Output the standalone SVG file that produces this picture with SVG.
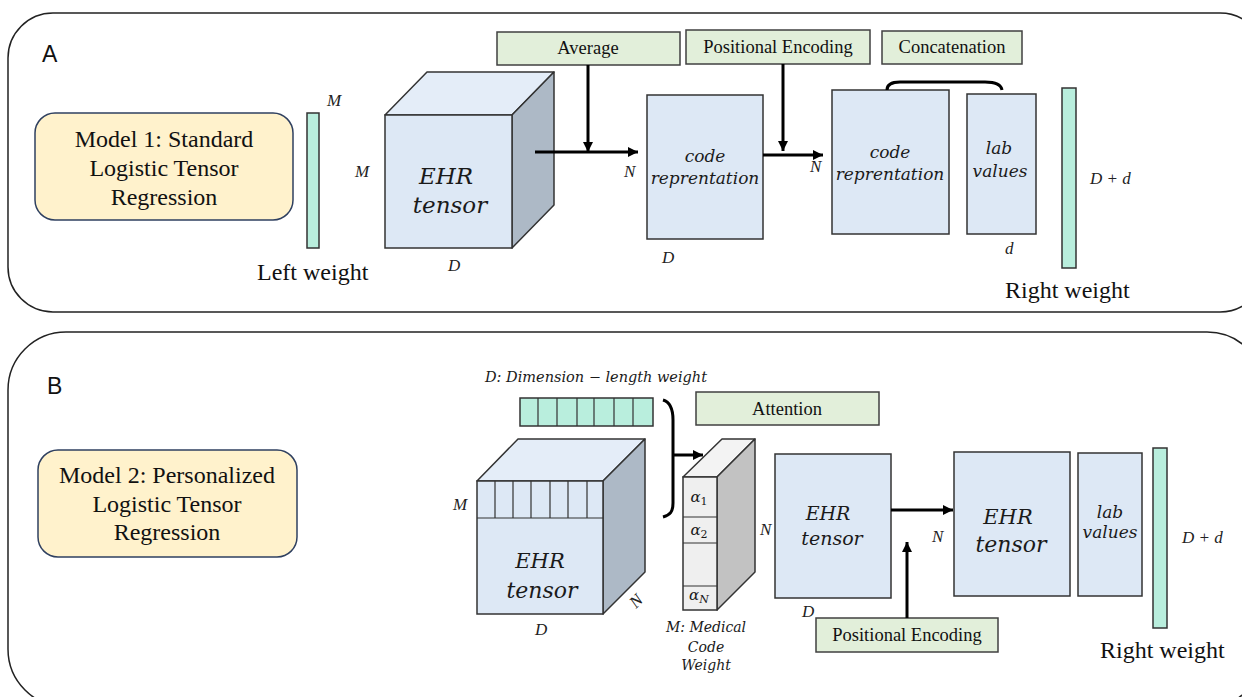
<svg xmlns="http://www.w3.org/2000/svg" width="1242" height="697" viewBox="0 0 1242 697">
<defs>
<marker id="ah" viewBox="0 0 10 10" refX="10" refY="5" markerWidth="11" markerHeight="10" markerUnits="userSpaceOnUse" orient="auto">
<path d="M0,0 L10,5 L0,10 z" fill="#000"/>
</marker>
<style>
.panel{fill:#fff;stroke:#222;stroke-width:1.5}
.model{fill:#fff2cc;stroke:#2f4060;stroke-width:1.5}
.op{fill:#e2efda;stroke:#404040;stroke-width:1.5}
.blue{fill:#dde8f5;stroke:#333;stroke-width:1.5}
.top{fill:#e4edf8;stroke:#333;stroke-width:1.5;stroke-linejoin:round}
.side{fill:#adb9c6;stroke:#333;stroke-width:1.5;stroke-linejoin:round}
.teal{fill:#b9eedd;stroke:#333;stroke-width:1.5}
.thin{stroke:#333;stroke-width:1.2;fill:none}
.gfront{fill:#efefef;stroke:#333;stroke-width:1.5}
.gtop{fill:#f3f3f3;stroke:#333;stroke-width:1.5;stroke-linejoin:round}
.gside{fill:#c2c2c2;stroke:#333;stroke-width:1.5;stroke-linejoin:round}
.arr{stroke:#000;stroke-width:3;fill:none;marker-end:url(#ah)}
.brace{stroke:#000;stroke-width:3;fill:none}
.big{font-family:"Liberation Serif",serif;font-size:24px;fill:#111}
.lbl{font-family:"Liberation Serif",serif;font-size:18.5px;fill:#111;text-anchor:middle}
.var{font-family:"Liberation Serif",serif;font-style:italic;font-size:17px;fill:#222}
.math{font-family:"DejaVu Serif",serif;font-style:italic;fill:#1a1a1a;text-anchor:middle}
.pl{font-family:"Liberation Sans",sans-serif;font-size:23px;fill:#111}
</style>
</defs>

<g id="panelA">
<rect class="panel" x="8" y="13" width="1257" height="299" rx="45"/>
<text class="pl" x="42" y="62">A</text>
</g>
<g id="panelB">
<rect class="panel" x="8" y="332" width="1257" height="375" rx="58"/>
<text class="pl" x="47" y="394">B</text>
</g>

<!-- Panel A nodes -->
<g id="model1">
<rect class="model" x="35" y="113" width="258" height="107" rx="20"/>
<text class="big" text-anchor="middle" x="164" y="147">Model 1: Standard</text>
<text class="big" text-anchor="middle" x="164" y="176">Logistic Tensor</text>
<text class="big" text-anchor="middle" x="164" y="205">Regression</text>
</g>
<g id="leftWeightA">
<rect class="teal" x="307" y="113" width="12" height="135"/>
<text class="var" x="327" y="106" font-size="15">M</text>
<text class="big" x="257" y="280">Left weight</text>
</g>
<g id="cubeA">
<text class="var" x="355" y="177">M</text>
<polygon class="top" points="385,115 427,72 554,72 512,115"/>
<polygon class="side" points="512,115 554,72 554,205 512,248"/>
<rect class="blue" x="385" y="115" width="127" height="133"/>
<text class="math" x="446" y="184" font-size="23">EHR</text>
<text class="math" x="450" y="213" font-size="23">tensor</text>
<text class="var" x="448" y="271">D</text>
</g>
<g id="average">
<rect class="op" x="497" y="32" width="183" height="33"/>
<text class="lbl" x="588" y="54">Average</text>
</g>
<g id="codeRepA1">
<rect class="blue" x="647" y="95" width="116" height="144"/>
<text class="math" x="705" y="162" font-size="17">code</text>
<text class="math" x="705" y="184" font-size="17">reprentation</text>
<text class="var" x="662" y="263">D</text>
<text class="var" x="624" y="177">N</text>
</g>
<g id="posEncA">
<rect class="op" x="686" y="30" width="184" height="34"/>
<text class="lbl" x="778" y="53">Positional Encoding</text>
</g>
<g id="concat">
<rect class="op" x="882" y="31" width="140" height="33"/>
<text class="lbl" x="952" y="53">Concatenation</text>
</g>
<g id="codeRepA2">
<rect class="blue" x="832" y="90" width="117" height="144"/>
<text class="math" x="890" y="158" font-size="17">code</text>
<text class="math" x="890" y="180" font-size="17">reprentation</text>
<text class="var" x="810" y="172">N</text>
</g>
<g id="labA">
<rect class="blue" x="967" y="94" width="69" height="140"/>
<text class="math" x="999" y="154" font-size="17">lab</text>
<text class="math" x="1000" y="177" font-size="17">values</text>
<text class="var" x="1005" y="254">d</text>
</g>
<g id="rightWeightA">
<rect class="teal" x="1062" y="88" width="14" height="180"/>
<text class="var" x="1090" y="184" font-size="18">D + d</text>
<text class="big" x="1005" y="298">Right weight</text>
</g>

<!-- Panel B nodes -->
<g id="model2">
<rect class="model" x="38" y="450" width="259" height="107" rx="20"/>
<text class="big" text-anchor="middle" x="167" y="483">Model 2: Personalized</text>
<text class="big" text-anchor="middle" x="167" y="512">Logistic Tensor</text>
<text class="big" text-anchor="middle" x="167" y="540">Regression</text>
</g>
<g id="dimWeight">
<text class="math" x="596" y="382" font-size="14.5" textLength="222" lengthAdjust="spacingAndGlyphs">D: Dimension − length weight</text>
<rect class="teal" x="520" y="398" width="133" height="28"/>
<path class="thin" d="M538,398V426M557,398V426M577,398V426M594,398V426M614,398V426M633,398V426"/>
</g>
<g id="cubeB">
<polygon class="top" points="477,481 518,439 645,439 603,481"/>
<polygon class="side" points="603,481 645,439 645,572 603,614"/>
<rect class="blue" x="477" y="481" width="126" height="133"/>
<path class="thin" d="M477,518H603M495,481V518M513,481V518M531,481V518M550,481V518M568,481V518M587,481V518"/>
<text class="var" x="453" y="510">M</text>
<text class="math" x="540" y="568" font-size="21">EHR</text>
<text class="math" x="542" y="598" font-size="22">tensor</text>
<text class="var" x="535" y="635">D</text>
<text class="var" x="0" y="0" transform="translate(636,609) rotate(-45)">N</text>
</g>
<g id="attention">
<rect class="op" x="696" y="392" width="183" height="33"/>
<text class="lbl" x="787" y="415">Attention</text>
</g>
<g id="medWeight">
<polygon class="gtop" points="683,477 722,439 755,439 717,477"/>
<polygon class="gside" points="717,477 755,439 755,572 717,610"/>
<rect class="gfront" x="683" y="477" width="34" height="133"/>
<path class="thin" d="M683,517H717M683,543H717M683,586H717"/>
<text class="math" x="699" y="502" font-size="15">α<tspan font-size="11" dy="3" font-style="normal">1</tspan></text>
<text class="math" x="699" y="535" font-size="15">α<tspan font-size="11" dy="3" font-style="normal">2</tspan></text>
<text class="math" x="699" y="600" font-size="15">α<tspan font-size="11" dy="3">N</tspan></text>
<text class="var" x="760" y="535">N</text>
<text class="math" x="706" y="632" font-size="14">M: Medical</text>
<text class="math" x="706" y="652" font-size="14">Code</text>
<text class="math" x="706" y="670" font-size="14">Weight</text>
</g>
<g id="ehrB1">
<rect class="blue" x="775" y="454" width="116" height="144"/>
<text class="math" x="828" y="520" font-size="19">EHR</text>
<text class="math" x="832" y="545" font-size="19">tensor</text>
<text class="var" x="802" y="617">D</text>
</g>
<g id="posEncB">
<rect class="op" x="816" y="618" width="182" height="34"/>
<text class="lbl" x="907" y="641">Positional Encoding</text>
</g>
<g id="ehrB2">
<rect class="blue" x="954" y="452" width="116" height="144"/>
<text class="math" x="1008" y="524" font-size="21">EHR</text>
<text class="math" x="1011" y="552" font-size="22">tensor</text>
<text class="var" x="932" y="542">N</text>
</g>
<g id="labB">
<rect class="blue" x="1078" y="453" width="64" height="143"/>
<text class="math" x="1110" y="518" font-size="17">lab</text>
<text class="math" x="1110" y="538" font-size="17">values</text>
</g>
<g id="rightWeightB">
<rect class="teal" x="1153" y="448" width="14" height="180"/>
<text class="var" x="1182" y="543" font-size="18">D + d</text>
<text class="big" x="1100" y="658">Right weight</text>
</g>

<g id="connectors">
<line class="arr" x1="588" y1="65" x2="588" y2="152"/>
<line class="arr" x1="535" y1="152" x2="638" y2="152"/>
<line class="arr" x1="783" y1="64" x2="783" y2="151"/>
<line class="arr" x1="763" y1="155" x2="823" y2="155"/>
<path class="brace" d="M887,90 C887,84 892,82 900,82 L985,82 C995,82 1001,84 1002,90"/>
<path class="brace" d="M663,400 C670,402 673,410 673,420 L673,503 C673,512 670,515 663,517"/>
<line class="arr" x1="673" y1="455" x2="703" y2="455"/>
<line class="arr" x1="891" y1="510" x2="953" y2="510"/>
<line class="arr" x1="907" y1="618" x2="907" y2="542"/>
</g>
</svg>
